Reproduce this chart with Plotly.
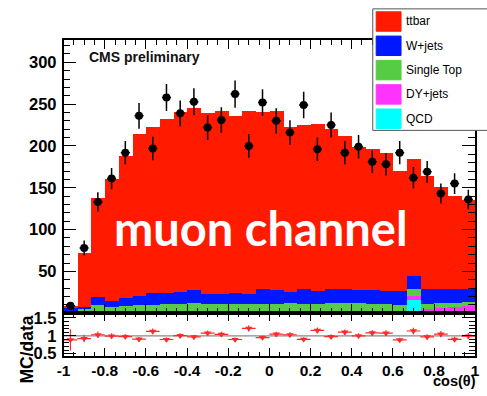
import numpy as np
import plotly.graph_objects as go

# 30 equal bins in cos(theta) over [-1, 1]
bin_edges = np.linspace(-1.0, 1.0, 31)
bin_centers = 0.5 * (bin_edges[:-1] + bin_edges[1:])
bin_width = bin_edges[1] - bin_edges[0]

# Stacked MC expectations (events per bin)
qcd = [0.5, 0.5, 2.0, 0.3, 0.3, 0.3, 0.3, 0.3, 0.3, 0.3,
       0.3, 0.3, 0.3, 0.3, 0.3, 0.3, 0.3, 0.3, 0.3, 0.3,
       0.3, 0.3, 0.3, 0.3, 0.3, 16.0, 0.3, 0.3, 0.3, 0.3]
dy_jets = [0.5, 0.5, 0.5, 0.7, 0.7, 0.7, 0.9, 0.9, 0.9, 1.2,
           1.2, 1.2, 1.2, 1.2, 1.2, 1.2, 1.2, 1.2, 1.2, 1.2,
           1.2, 1.2, 1.2, 1.2, 1.2, 4.0, 4.7, 5.7, 6.7, 7.7]
single_top = [1.5, 4.0, 6.5, 6.5, 7.0, 8.5, 8.8, 9.8, 9.8, 10.0,
              9.5, 9.5, 9.5, 9.0, 9.5, 9.5, 10.0, 9.5, 9.5, 10.5,
              10.0, 10.0, 9.5, 9.5, 8.5, 9.0, 6.0, 5.5, 5.0, 5.0]
w_jets = [3.5, 2.5, 10.0, 7.0, 10.0, 11.0, 13.5, 13.0, 14.0, 16.0,
          12.0, 12.0, 12.5, 12.5, 17.5, 16.5, 13.5, 17.5, 15.5, 16.5,
          16.5, 15.5, 16.5, 15.5, 16.0, 15.0, 17.5, 16.5, 16.5, 16.0]
ttbar = [2.0, 64.5, 118.0, 145.5, 170.0, 193.5, 198.5, 207.5, 215.0, 218.0,
         216.5, 218.0, 211.5, 219.0, 211.5, 213.5, 197.5, 196.5, 199.5, 191.5,
         183.5, 172.0, 168.5, 165.0, 144.0, 140.0, 135.5, 122.0, 111.0, 106.0]

# Observed events per bin
data = [9, 78, 133, 161, 192, 236, 197, 258, 239, 253,
        222, 231, 262, 200, 252, 230, 216, 249, 196, 225,
        192, 199, 181, 178, 192, 162, 169, 143, 155, 136]

# Legend entries, top to bottom
legend_names = ["ttbar", "W+jets", "Single Top", "DY+jets", "QCD"]
legend_colors = ["#ff1a00", "#0018ff", "#55cc44", "#ff33ff", "#00ffff"]

# Axis tick labels
x_tickvals = [-1.0, -0.8, -0.6, -0.4, -0.2, 0.0, 0.2, 0.4, 0.6, 0.8, 1.0]
x_ticktext = ["-1", "-0.8", "-0.6", "-0.4", "-0.2", "0", "0.2", "0.4", "0.6", "0.8", "1"]
y_tickvals = [50, 100, 150, 200, 250, 300]
r_tickvals = [0.5, 1.0, 1.5]
r_ticktext = ["0.5", "1", "1.5"]

data_arr = np.array(data, dtype=float)
mc_total = np.array(qcd) + np.array(dy_jets) + np.array(single_top) + np.array(w_jets) + np.array(ttbar)
data_err = np.sqrt(data_arr)
ratio = mc_total / data_arr
ratio_err = ratio / np.sqrt(data_arr)

W, H = 487, 396
FONT = "Liberation Sans, Arial, Helvetica, sans-serif"


def px_x(p):
    return p / W


def px_y(p):
    return (H - p) / H


fig = go.Figure()

# Stack: first trace at the bottom
stack = [
    ("QCD", qcd, legend_colors[4]),
    ("DY+jets", dy_jets, legend_colors[3]),
    ("Single Top", single_top, legend_colors[2]),
    ("W+jets", w_jets, legend_colors[1]),
    ("ttbar", ttbar, legend_colors[0]),
]
for name, vals, col in stack:
    fig.add_trace(go.Bar(
        x=bin_centers, y=vals, width=bin_width, name=name,
        marker=dict(color=col, line=dict(width=0)),
        xaxis="x", yaxis="y", showlegend=False, hoverinfo="skip",
    ))

# Data points with Poisson errors
fig.add_trace(go.Scatter(
    x=bin_centers, y=data_arr, mode="markers",
    marker=dict(symbol="circle", size=8, color="black"),
    error_y=dict(type="data", array=data_err, color="black", thickness=1.5, width=0),
    error_x=dict(type="constant", value=0.022, color="black", thickness=1.5, width=0),
    xaxis="x", yaxis="y", showlegend=False, hoverinfo="skip",
))

# Ratio panel
fig.add_trace(go.Scatter(
    x=bin_centers, y=ratio, mode="markers",
    marker=dict(symbol="triangle-down", size=6.5, color="#ff2a2a"),
    error_y=dict(type="data", array=ratio_err, color="#ff2a2a", thickness=1.2, width=0),
    error_x=dict(type="constant", value=bin_width / 2, color="#ff2a2a", thickness=1.2, width=0),
    xaxis="x2", yaxis="y2", showlegend=False, hoverinfo="skip",
    cliponaxis=True,
))

x_dom = [px_x(58), px_x(480)]
main_dom = [px_y(318), px_y(37.3)]
ratio_dom = [px_y(361.7), px_y(318)]

x_tick_font = dict(family=FONT, size=15.5, color="black", weight="bold")
y_tick_font = dict(family=FONT, size=16.5, color="black", weight="bold")
common_axis = dict(
    showline=True, linecolor="black", linewidth=1.5, mirror="ticks",
    ticks="inside", tickcolor="black", tickwidth=1,
    showgrid=False, zeroline=False,
)

fig.update_layout(
    width=W, height=H, autosize=False,
    margin=dict(l=0, r=0, t=0, b=0),
    paper_bgcolor="white", plot_bgcolor="white",
    barmode="stack", bargap=0,
    font=dict(family=FONT, color="black"),
    xaxis=dict(domain=x_dom, anchor="y", range=[-1, 1], showticklabels=False,
               tickvals=x_tickvals, ticklen=9,
               minor=dict(ticks="inside", ticklen=5, dtick=0.05, tick0=-1, tickcolor="black"),
               **common_axis),
    yaxis=dict(domain=main_dom, anchor="x", range=[0, 326.4],
               tickvals=y_tickvals, ticklen=13, tickfont=y_tick_font, ticklabelstandoff=2,
               minor=dict(ticks="inside", ticklen=7, dtick=10, tick0=0, tickcolor="black"),
               **common_axis),
    xaxis2=dict(domain=x_dom, anchor="y2", range=[-1, 1],
                tickvals=x_tickvals, ticktext=x_ticktext, ticklen=8, tickfont=x_tick_font,
                ticklabelstandoff=0,
                minor=dict(ticks="inside", ticklen=4, dtick=0.05, tick0=-1, tickcolor="black"),
                **common_axis),
    yaxis2=dict(domain=ratio_dom, anchor="x2", range=[0.445, 1.635],
                tickvals=r_tickvals, ticktext=r_ticktext, ticklen=13, tickfont=y_tick_font,
                ticklabelstandoff=2,
                minor=dict(ticks="inside", ticklen=6, dtick=0.1, tick0=0, tickcolor="black"),
                **common_axis),
)

shapes = []
# Reference line at ratio = 1
shapes.append(dict(type="line", xref="x2", yref="y2", x0=-1, x1=1, y0=1, y1=1,
                   line=dict(color="#888888", width=1.2), layer="below"))

# Legend box and swatches
shapes.append(dict(type="rect", xref="paper", yref="paper",
                   x0=px_x(375), x1=px_x(495), y0=px_y(130), y1=px_y(5),
                   fillcolor="white", line=dict(color="#555555", width=1), layer="above"))
annotations = []
for i, (name, col) in enumerate(zip(legend_names, legend_colors)):
    top = 8 + 25 * i
    shapes.append(dict(type="rect", xref="paper", yref="paper",
                       x0=px_x(378.5), x1=px_x(404), y0=px_y(top + 20), y1=px_y(top),
                       fillcolor=col, line=dict(color=col, width=1), layer="above"))
    annotations.append(dict(xref="paper", yref="paper", x=px_x(407), y=px_y(top + 10),
                            text=name, showarrow=False, xanchor="left", yanchor="middle",
                            font=dict(family=FONT, size=12, color="black")))

annotations += [
    dict(xref="paper", yref="paper", x=px_x(82), y=px_y(55), text="<b>CMS preliminary</b>",
         showarrow=False, xanchor="left", yanchor="middle",
         font=dict(family=FONT, size=14, color="#111111")),
    dict(xref="paper", yref="paper", x=px_x(260), y=px_y(230), text="<b>muon channel</b>",
         showarrow=False, xanchor="center", yanchor="middle",
         font=dict(family="Lato, Open Sans, sans-serif", size=47, color="white")),
    dict(xref="paper", yref="paper", x=px_x(482), y=px_y(397.5), text="<b>cos(θ)</b>",
         showarrow=False, xanchor="right", yanchor="bottom", borderpad=0,
         font=dict(family=FONT, size=14.5, color="black")),
    dict(xref="paper", yref="paper", x=px_x(21), y=px_y(355), text="<b>MC/data</b>",
         showarrow=False, xanchor="center", yanchor="middle", textangle=-90,
         font=dict(family=FONT, size=17.5, color="black")),
]

fig.update_layout(shapes=shapes, annotations=annotations)

fig.write_html("out.html")
